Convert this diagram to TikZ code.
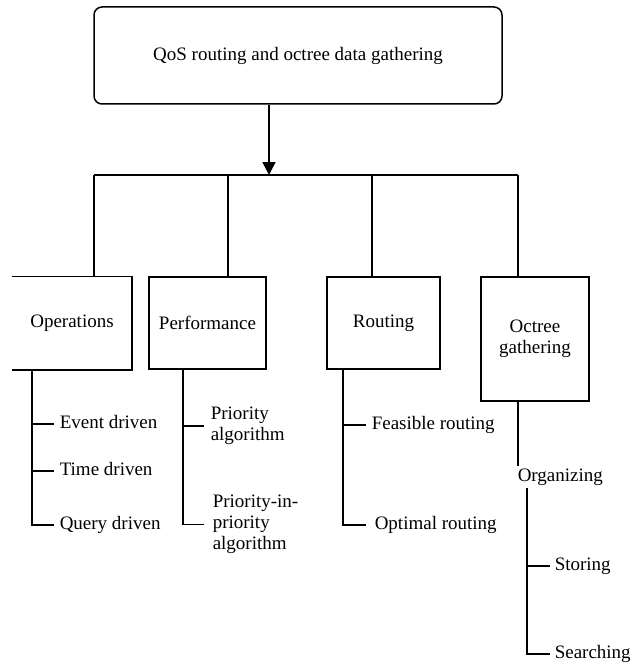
\documentclass[tikz,border=0pt]{standalone}
\usepackage{fontspec}
\setmainfont{Liberation Serif}
\usetikzlibrary{arrows.meta}
\begin{document}
\begin{tikzpicture}[x=1pt,y=-1pt,line width=1.5pt,
  font=\fontsize{19}{21}\selectfont,
  box/.style={draw,line width=1.5pt,inner sep=0pt,align=center},
  openbox/.style={inner sep=0pt,align=center},
  lbl/.style={anchor=west,inner xsep=5pt,inner ysep=1pt,text height=13pt,text depth=4pt},
  mlbl/.style={anchor=west,inner xsep=6pt,inner ysep=1pt,align=left},
  tip/.style={-{Triangle[width=13pt,length=13pt]}}]
\useasboundingbox (0,0) rectangle (632,666);

% top box
\node[box,rounded corners=8pt,minimum width=408pt,minimum height=97pt] (top) at (298,55.5) {QoS routing and octree data gathering};

% second level boxes
\node[openbox,minimum width=118pt,minimum height=92pt] (ops) at (72,323) {Operations};
\node[box,minimum width=117pt,minimum height=92pt] (perf) at (207.5,323) {Performance};
\node[box,minimum width=113pt,minimum height=92pt] (rout) at (383.5,323) {Routing};
\node[box,minimum width=108pt,minimum height=124pt] (oct) at (535,339) {Octree\\gathering};
\draw (ops.north west) -- (ops.north east) -- (ops.south east) -- (ops.south west);

% junctions
\coordinate (j) at (269,175);
\coordinate (b1) at (94,175);
\coordinate (b2) at (228,175);
\coordinate (b3) at (372,175);
\coordinate (b4) at (518,175);

\draw[tip] (j |- top.south) -- (j);
\draw (b1) -- (b4);
\draw (b1) -- (b1 |- ops.north);
\draw (b2) -- (b2 |- perf.north);
\draw (b3) -- (b3 |- rout.north);
\draw (b4) -- (b4 |- oct.north);

% Operations leaves
\node[lbl] (ed) at (54,424) {Event driven};
\node[lbl] (td) at (54,471) {Time driven};
\node[lbl] (qd) at (54,525) {Query driven};
\coordinate (s1) at (32,0);
\draw (s1 |- ops.south) |- (qd.west);
\draw (s1 |- ed.west) -- (ed.west);
\draw (s1 |- td.west) -- (td.west);

% Performance leaves
\node[mlbl] (pa) at (204,426) {Priority\\algorithm};
\node[mlbl,inner xsep=8pt] (pip) at (204,524.5) {Priority-in-\\priority\\algorithm};
\coordinate (s2) at (183,0);
\draw (s2 |- perf.south) |- (pip.west);
\draw (s2 |- pa.west) -- (pa.west);

% Routing leaves
\node[lbl] (fr) at (366,425) {Feasible routing};
\node[lbl,inner xsep=8pt] (or) at (366,525) {Optimal routing};
\coordinate (s3) at (343,0);
\draw (s3 |- rout.south) |- (or.west);
\draw (s3 |- fr.west) -- (fr.west);

% Octree leaves
\node[lbl,inner xsep=4pt,inner ysep=2pt] (org) at (513,477) {Organizing};
\node[lbl,inner xsep=4pt] (sto) at (550,566) {Storing};
\node[lbl,inner xsep=4pt] (sea) at (550,654) {Searching};
\coordinate (s4) at (518,0);
\coordinate (s5) at (527,0);
\draw (s4 |- oct.south) -- (s4 |- org.north);
\draw (s5 |- org.south) |- (sea.west);
\draw (s5 |- sto.west) -- (sto.west);
\end{tikzpicture}
\end{document}
